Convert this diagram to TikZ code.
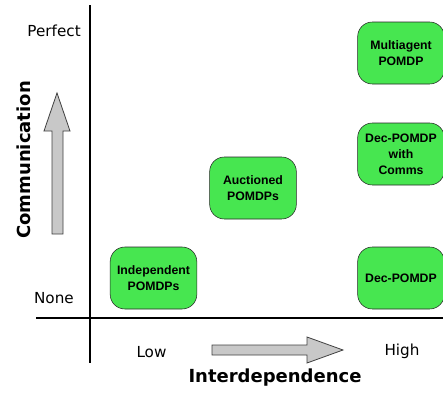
\documentclass[tikz,border=0pt]{standalone}
\usepackage{fontspec}
\usepackage{xcolor}
\usepackage{tikz}
\usetikzlibrary{positioning}
\newfontfamily\axisfont{DejaVu Sans}
\newfontfamily\boxfont{Liberation Sans}
\definecolor{agentgreen}{RGB}{71,230,80}
\definecolor{arrowgray}{RGB}{200,200,200}

\begin{document}
\begin{tikzpicture}[x=0.75pt, y=-0.75pt,
    model/.style={draw=black!85, rounded corners=11pt, fill=agentgreen, minimum width=65pt, minimum height=46.5pt, align=center, inner sep=1pt, font=\boxfont\bfseries\fontsize{9.2}{12}\selectfont},
    tick/.style={font=\axisfont\fontsize{11.4}{13}\selectfont, inner sep=0pt},
    title/.style={font=\axisfont\bfseries\fontsize{13.5}{15}\selectfont, inner sep=0pt}]
    \useasboundingbox (0,0) rectangle (443,396);
    % axes
    \draw[black, line width=0.8pt] (90,5) -- (90,363);
    \draw[black, line width=0.8pt] (36,318) -- (443,318);
    % models
    \node[model] (mpomdp) at (401,53) {Multiagent\\POMDP};
    \node[model] (comms) at (401,154) {Dec-POMDP\\with\\Comms};
    \node[model] (auction) at (253,188) {Auctioned\\POMDPs};
    \node[model] (indep) at (153.5,278) {Independent\\POMDPs};
    \node[model] (decpomdp) at (401,278) {Dec-POMDP};
    % axis labels
    \node[tick, anchor=east] (perfect) at (81,31) {Perfect};
    \node[tick, anchor=east] (none) at (74,298) {None};
    \node[tick] (low) at (151.5,352) {Low};
    \node[tick] (high) at (402,351) {High};
    \node[title] (interdep) at (275,378) {Interdependence};
    \node[title, rotate=90] (comm) at (24,160) {Communication};
    % block arrows
    \draw[draw=black!75, fill=arrowgray, line width=0.6pt] (52,234) -- (52,131) -- (44,131) -- (57,93) -- (70,131) -- (63,131) -- (63,234) -- cycle;
    \draw[draw=black!75, fill=arrowgray, line width=0.6pt] (212,345) -- (307,345) -- (307,337) -- (343,350) -- (307,363) -- (307,355) -- (212,355) -- cycle;
\end{tikzpicture}
\end{document}
